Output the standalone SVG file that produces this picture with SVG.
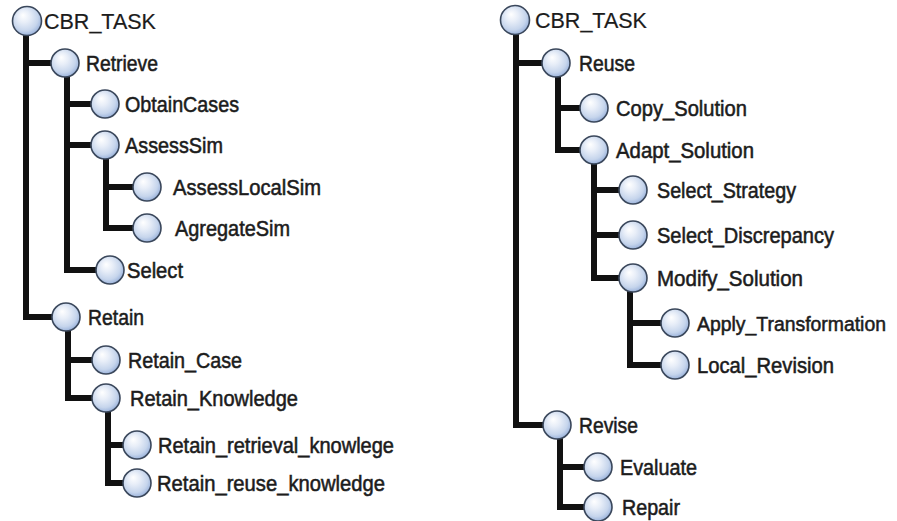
<svg xmlns="http://www.w3.org/2000/svg" width="897" height="521" viewBox="0 0 897 521">
<defs>
<radialGradient id="ball" cx="0.45" cy="0.42" r="0.6" fx="0.36" fy="0.3">
<stop offset="0" stop-color="#ffffff"/>
<stop offset="0.35" stop-color="#e8eef8"/>
<stop offset="0.75" stop-color="#c6d5ec"/>
<stop offset="1" stop-color="#97b0da"/>
</radialGradient>
<style>
.c{fill:url(#ball);stroke:#3a475b;stroke-width:1.6}
.t{font-family:"Liberation Sans",Arial,sans-serif;font-size:22px;fill:#1c1c1c;stroke:#1c1c1c;stroke-width:0.55}
.ts{font-family:"Liberation Sans",Arial,sans-serif;font-size:20.5px;fill:#1c1c1c;stroke:#1c1c1c;stroke-width:0.55}
.r{font-family:"Liberation Sans",Arial,sans-serif;font-size:21.5px;fill:#1c1c1c;stroke:#1c1c1c;stroke-width:0.2}
.e{fill:none;stroke:#111;stroke-width:6;stroke-linejoin:miter;stroke-linecap:butt}
</style>
</defs>
<rect width="897" height="521" fill="#ffffff"/>
<g id="connectors">
<path class="e" d="M26,34 V317 H53 M26,63 H52"/>
<path class="e" d="M67,76 V270 H97 M67,104 H92 M67,145 H92"/>
<path class="e" d="M106,158 V228 H134 M106,187 H134"/>
<path class="e" d="M68,330 V398 H93 M68,360 H93"/>
<path class="e" d="M108,411 V483 H124 M108,445 H124"/>
<path class="e" d="M516,34 V425 H544 M516,63 H543"/>
<path class="e" d="M558,76 V150 H581 M558,108 H581"/>
<path class="e" d="M594,163 V278 H620 M594,190 H620 M594,235 H620"/>
<path class="e" d="M630,291 V365 H662 M630,323 H662"/>
<path class="e" d="M560,438 V507 H585 M560,467 H585"/>
</g>
<g id="L_CBR_TASK"><circle class="c" cx="27" cy="21" r="14.5"/><text class="r" x="44" y="29">CBR_TASK</text></g>
<g id="Retrieve"><circle class="c" cx="65" cy="63" r="14"/><text class="t" x="86" y="71" textLength="72" lengthAdjust="spacingAndGlyphs">Retrieve</text></g>
<g id="ObtainCases"><circle class="c" cx="105" cy="104" r="14"/><text class="t" x="125" y="112" textLength="114" lengthAdjust="spacingAndGlyphs">ObtainCases</text></g>
<g id="AssessSim"><circle class="c" cx="105" cy="145" r="14"/><text class="t" x="125" y="153" textLength="98" lengthAdjust="spacingAndGlyphs">AssessSim</text></g>
<g id="AssessLocalSim"><circle class="c" cx="147" cy="187" r="14"/><text class="t" x="173" y="195" textLength="148" lengthAdjust="spacingAndGlyphs">AssessLocalSim</text></g>
<g id="AgregateSim"><circle class="c" cx="147" cy="228" r="14"/><text class="t" x="175" y="236" textLength="115" lengthAdjust="spacingAndGlyphs">AgregateSim</text></g>
<g id="Select"><circle class="c" cx="110" cy="270" r="14"/><text class="t" x="127" y="278" textLength="56" lengthAdjust="spacingAndGlyphs">Select</text></g>
<g id="Retain"><circle class="c" cx="66" cy="317" r="14"/><text class="t" x="88" y="325" textLength="56" lengthAdjust="spacingAndGlyphs">Retain</text></g>
<g id="Retain_Case"><circle class="c" cx="106" cy="360" r="14"/><text class="t" x="128" y="368" textLength="114" lengthAdjust="spacingAndGlyphs">Retain_Case</text></g>
<g id="Retain_Knowledge"><circle class="c" cx="106" cy="398" r="14"/><text class="t" x="130" y="406" textLength="168" lengthAdjust="spacingAndGlyphs">Retain_Knowledge</text></g>
<g id="Retain_retrieval_knowlege"><circle class="c" cx="137" cy="445" r="14"/><text class="t" x="158" y="453" textLength="236" lengthAdjust="spacingAndGlyphs">Retain_retrieval_knowlege</text></g>
<g id="Retain_reuse_knowledge"><circle class="c" cx="137" cy="483" r="14"/><text class="t" x="157" y="491" textLength="228" lengthAdjust="spacingAndGlyphs">Retain_reuse_knowledge</text></g>
<g id="R_CBR_TASK"><circle class="c" cx="515" cy="20" r="14.5"/><text class="r" x="535" y="28">CBR_TASK</text></g>
<g id="Reuse"><circle class="c" cx="556" cy="63" r="14"/><text class="t" x="579" y="71" textLength="56" lengthAdjust="spacingAndGlyphs">Reuse</text></g>
<g id="Copy_Solution"><circle class="c" cx="594" cy="108" r="14"/><text class="t" x="616" y="116" textLength="131" lengthAdjust="spacingAndGlyphs">Copy_Solution</text></g>
<g id="Adapt_Solution"><circle class="c" cx="594" cy="150" r="14"/><text class="t" x="616" y="158" textLength="138" lengthAdjust="spacingAndGlyphs">Adapt_Solution</text></g>
<g id="Select_Strategy"><circle class="c" cx="633" cy="190" r="14"/><text class="t" x="657" y="198" textLength="139" lengthAdjust="spacingAndGlyphs">Select_Strategy</text></g>
<g id="Select_Discrepancy"><circle class="c" cx="633" cy="235" r="14"/><text class="t" x="657" y="243" textLength="177" lengthAdjust="spacingAndGlyphs">Select_Discrepancy</text></g>
<g id="Modify_Solution"><circle class="c" cx="633" cy="278" r="14"/><text class="t" x="657" y="286" textLength="146" lengthAdjust="spacingAndGlyphs">Modify_Solution</text></g>
<g id="Apply_Transformation"><circle class="c" cx="675" cy="323" r="14"/><text class="ts" x="697" y="330.5" textLength="189" lengthAdjust="spacingAndGlyphs">Apply_Transformation</text></g>
<g id="Local_Revision"><circle class="c" cx="675" cy="365" r="14"/><text class="t" x="697" y="373" textLength="137" lengthAdjust="spacingAndGlyphs">Local_Revision</text></g>
<g id="Revise"><circle class="c" cx="557" cy="425" r="14"/><text class="t" x="579" y="433" textLength="59" lengthAdjust="spacingAndGlyphs">Revise</text></g>
<g id="Evaluate"><circle class="c" cx="598" cy="467" r="14"/><text class="t" x="620" y="475" textLength="77" lengthAdjust="spacingAndGlyphs">Evaluate</text></g>
<g id="Repair"><circle class="c" cx="598" cy="507" r="14"/><text class="t" x="622" y="515" textLength="58" lengthAdjust="spacingAndGlyphs">Repair</text></g>
</svg>
